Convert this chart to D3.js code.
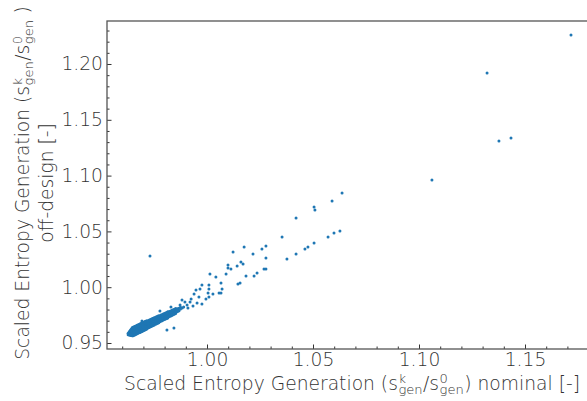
<!DOCTYPE html>
<html>
<head>
<meta charset="utf-8">
<script src="https://cdn.jsdelivr.net/npm/d3@7"></script>
<style>
  html, body { margin: 0; padding: 0; background: #fff; }
  svg { display: block; }
  text { font-family: "DejaVu Sans", sans-serif; font-weight: 200; }
</style>
</head>
<body>
<svg id="chart" width="587" height="401"></svg>
<script>
// Scaled entropy generation: nominal (x) against off-design (y), one dot per operating point.
// Each entry is [nominal, offDesign].

// dense core of the cloud
const coreCluster = [
  [0.9628, 0.9574], [0.9628, 0.9588],
  [0.9633, 0.9572], [0.9633, 0.9586], [0.9633, 0.9600],
  [0.9638, 0.9570], [0.9638, 0.9584], [0.9638, 0.9598], [0.9638, 0.9612],
  [0.9642, 0.9568], [0.9642, 0.9582], [0.9642, 0.9596], [0.9642, 0.9610], [0.9642, 0.9624],
  [0.9647, 0.9566], [0.9647, 0.9580], [0.9647, 0.9594], [0.9647, 0.9608], [0.9647, 0.9622], [0.9647, 0.9636],
  [0.9651, 0.9566], [0.9651, 0.9581], [0.9651, 0.9596], [0.9651, 0.9611], [0.9651, 0.9626], [0.9651, 0.9641],
  [0.9656, 0.9570], [0.9656, 0.9585], [0.9656, 0.9600], [0.9656, 0.9615], [0.9656, 0.9630], [0.9656, 0.9645],
  [0.9661, 0.9575], [0.9661, 0.9590], [0.9661, 0.9605], [0.9661, 0.9620], [0.9661, 0.9635], [0.9661, 0.9650],
  [0.9665, 0.9578], [0.9665, 0.9593], [0.9665, 0.9608], [0.9665, 0.9623], [0.9665, 0.9638], [0.9665, 0.9653],
  [0.9670, 0.9583], [0.9670, 0.9598], [0.9670, 0.9613], [0.9670, 0.9628], [0.9670, 0.9643], [0.9670, 0.9658],
  [0.9674, 0.9587], [0.9674, 0.9602], [0.9674, 0.9617], [0.9674, 0.9632], [0.9674, 0.9647], [0.9674, 0.9662],
  [0.9679, 0.9591], [0.9679, 0.9606], [0.9679, 0.9621], [0.9679, 0.9636], [0.9679, 0.9651], [0.9679, 0.9666],
  [0.9683, 0.9595], [0.9683, 0.9610], [0.9683, 0.9625], [0.9683, 0.9640], [0.9683, 0.9655], [0.9683, 0.9670],
  [0.9688, 0.9599], [0.9688, 0.9614], [0.9688, 0.9629], [0.9688, 0.9644], [0.9688, 0.9659], [0.9688, 0.9674],
  [0.9693, 0.9604], [0.9693, 0.9619], [0.9693, 0.9634], [0.9693, 0.9649], [0.9693, 0.9664], [0.9693, 0.9679],
  [0.9697, 0.9608], [0.9697, 0.9623], [0.9697, 0.9638], [0.9697, 0.9653], [0.9697, 0.9668], [0.9697, 0.9683],
  [0.9702, 0.9612], [0.9702, 0.9627], [0.9702, 0.9642], [0.9702, 0.9657], [0.9702, 0.9672], [0.9702, 0.9687],
  [0.9707, 0.9617], [0.9707, 0.9632], [0.9707, 0.9647], [0.9707, 0.9662], [0.9707, 0.9677], [0.9707, 0.9692],
  [0.9711, 0.9620], [0.9711, 0.9635], [0.9711, 0.9650], [0.9711, 0.9665], [0.9711, 0.9680], [0.9711, 0.9695],
  [0.9716, 0.9625], [0.9716, 0.9640], [0.9716, 0.9655], [0.9716, 0.9670], [0.9716, 0.9685], [0.9716, 0.9700],
  [0.9721, 0.9634], [0.9721, 0.9650], [0.9721, 0.9666], [0.9721, 0.9682], [0.9721, 0.9698],
  [0.9726, 0.9639], [0.9726, 0.9655], [0.9726, 0.9671], [0.9726, 0.9687], [0.9726, 0.9703],
  [0.9731, 0.9644], [0.9731, 0.9660], [0.9731, 0.9676], [0.9731, 0.9692], [0.9731, 0.9708],
  [0.9736, 0.9648], [0.9736, 0.9664], [0.9736, 0.9680], [0.9736, 0.9696], [0.9736, 0.9712],
  [0.9741, 0.9653], [0.9741, 0.9669], [0.9741, 0.9685], [0.9741, 0.9701], [0.9741, 0.9717],
  [0.9746, 0.9657], [0.9746, 0.9673], [0.9746, 0.9689], [0.9746, 0.9705], [0.9746, 0.9721],
  [0.9751, 0.9662], [0.9751, 0.9678], [0.9751, 0.9694], [0.9751, 0.9710], [0.9751, 0.9726],
  [0.9757, 0.9667], [0.9757, 0.9683], [0.9757, 0.9699], [0.9757, 0.9715], [0.9757, 0.9731],
  [0.9762, 0.9672], [0.9762, 0.9688], [0.9762, 0.9704], [0.9762, 0.9720], [0.9762, 0.9736],
  [0.9767, 0.9676], [0.9767, 0.9692], [0.9767, 0.9708], [0.9767, 0.9724], [0.9767, 0.9740],
  [0.9772, 0.9681], [0.9772, 0.9697], [0.9772, 0.9713], [0.9772, 0.9729], [0.9772, 0.9745],
  [0.9778, 0.9691], [0.9778, 0.9709], [0.9778, 0.9727], [0.9778, 0.9745],
  [0.9783, 0.9696], [0.9783, 0.9714], [0.9783, 0.9732], [0.9783, 0.9750],
  [0.9788, 0.9700], [0.9788, 0.9718], [0.9788, 0.9736], [0.9788, 0.9754],
  [0.9793, 0.9705], [0.9793, 0.9723], [0.9793, 0.9741], [0.9793, 0.9759],
  [0.9799, 0.9710], [0.9799, 0.9728], [0.9799, 0.9746], [0.9799, 0.9764],
  [0.9804, 0.9715], [0.9804, 0.9733], [0.9804, 0.9751], [0.9804, 0.9769],
  [0.9810, 0.9720], [0.9810, 0.9738], [0.9810, 0.9756], [0.9810, 0.9774],
  [0.9815, 0.9725], [0.9815, 0.9743], [0.9815, 0.9761], [0.9815, 0.9779],
  [0.9820, 0.9735], [0.9820, 0.9757], [0.9820, 0.9779],
  [0.9826, 0.9740], [0.9826, 0.9762], [0.9826, 0.9784],
  [0.9831, 0.9745], [0.9831, 0.9767], [0.9831, 0.9789],
  [0.9836, 0.9749], [0.9836, 0.9771], [0.9836, 0.9793],
  [0.9842, 0.9755], [0.9842, 0.9777], [0.9842, 0.9799],
  [0.9847, 0.9759], [0.9847, 0.9781], [0.9847, 0.9803],
  [0.9852, 0.9764], [0.9852, 0.9786], [0.9852, 0.9808],
  [0.9858, 0.9780], [0.9858, 0.9802],
  [0.9863, 0.9785], [0.9863, 0.9807],
  [0.9868, 0.9789], [0.9868, 0.9811],
  [0.9875, 0.9804], [0.9875, 0.9820],
  [0.9883, 0.9814], [0.9890, 0.9822]
];

// points that rise above the core towards the upper right
const upperBranch = [
  [1.0637, 1.0844], [1.0590, 1.0772], [1.0505, 1.0719], [1.0509, 1.0692],
  [1.0420, 1.0620], [1.0354, 1.0450], [1.0278, 1.0369], [1.0259, 1.0342],
  [1.0175, 1.0360], [1.0123, 1.0315], [1.0217, 1.0297], [1.0099, 1.0199],
  [1.0160, 1.0226], [1.0170, 1.0208], [1.0142, 1.0190], [1.0099, 1.0172],
  [1.0113, 1.0163], [1.0014, 1.0118], [1.0042, 1.0091], [1.0090, 1.0118],
  [1.0066, 1.0038], [1.0146, 1.0029], [1.0156, 1.0038], [0.9976, 1.0020],
  [1.0009, 1.0020], [0.9967, 0.9984], [0.9948, 0.9975], [1.0009, 0.9984],
  [1.0005, 0.9948], [1.0057, 0.9948], [1.0066, 0.9948], [1.0071, 0.9984],
  [1.0028, 0.9939], [0.9939, 0.9939], [0.9962, 0.9912], [0.9925, 0.9894],
  [0.9953, 0.9858], [0.9976, 0.9849], [0.9995, 0.9894], [1.0009, 0.9912],
  [0.9882, 0.9885], [0.9896, 0.9867], [0.9873, 0.9841], [0.9858, 0.9805],
  [0.9830, 0.9823], [0.9840, 0.9796], [0.9811, 0.9769], [0.9906, 0.9841],
  [0.9920, 0.9867], [0.9934, 0.9832], [0.9910, 0.9814], [0.9778, 0.9787],
  [0.9693, 0.9697]
];

// a lower, flatter branch
const lowerBranch = [
  [1.0627, 1.0504], [1.0599, 1.0486], [1.0571, 1.0450], [1.0505, 1.0396],
  [1.0476, 1.0360], [1.0462, 1.0342], [1.0420, 1.0297], [1.0377, 1.0253],
  [1.0278, 1.0262], [1.0269, 1.0163], [1.0278, 1.0163], [1.0184, 1.0100],
  [1.0236, 1.0127], [1.0222, 1.0100]
];

// isolated points
const outliers = [
  [1.1717, 1.2260], [1.1321, 1.1919], [1.1434, 1.1337], [1.1377, 1.1310],
  [1.1061, 1.0961], [0.9811, 0.9616], [0.9844, 0.9634], [0.9731, 1.0280]
];

const xTicks = [1.00, 1.05, 1.10, 1.15];
const yTicks = [0.95, 1.00, 1.05, 1.10, 1.15, 1.20];
const xMinor = [0.96, 0.97, 0.98, 0.99, 1.01, 1.02, 1.03, 1.04, 1.06, 1.07, 1.08, 1.09,
                1.11, 1.12, 1.13, 1.14, 1.16, 1.17, 1.18];
const yMinor = [0.96, 0.97, 0.98, 0.99, 1.01, 1.02, 1.03, 1.04, 1.06, 1.07, 1.08, 1.09,
                1.11, 1.12, 1.13, 1.14, 1.16, 1.17, 1.18, 1.19, 1.21, 1.22, 1.23];

const svg = d3.select("#chart");
const plot = { left: 107, top: 21, right: 590, bottom: 349 };
const pointColor = "#1f77b4";
const inkColor = "#333";
const fontSize = 18.7;

const x = d3.scaleLinear().domain([0.95283, 1.18066]).range([plot.left, plot.right]);
const y = d3.scaleLinear().domain([0.94462, 1.23853]).range([plot.bottom, plot.top]);

// axes with inward ticks
const xAxis = svg.append("g").attr("transform", `translate(0,${plot.bottom})`)
  .call(d3.axisBottom(x).tickValues(xTicks).tickSizeInner(-4.5).tickSizeOuter(0)
        .tickPadding(4).tickFormat(d3.format(".2f")));
const xAxisMinor = svg.append("g").attr("transform", `translate(0,${plot.bottom})`)
  .call(d3.axisBottom(x).tickValues(xMinor).tickSizeInner(-2.5).tickSizeOuter(0).tickFormat(""));

const yAxis = svg.append("g").attr("transform", `translate(${plot.left},0)`)
  .call(d3.axisLeft(y).tickValues(yTicks).tickSizeInner(-4.5).tickSizeOuter(0)
        .tickPadding(4).tickFormat(d3.format(".2f")));
const yAxisMinor = svg.append("g").attr("transform", `translate(${plot.left},0)`)
  .call(d3.axisLeft(y).tickValues(yMinor).tickSizeInner(-2.5).tickSizeOuter(0).tickFormat(""));

[xAxis, xAxisMinor, yAxis, yAxisMinor].forEach(g => {
  g.select(".domain").remove();
  g.selectAll(".tick line").attr("stroke", inkColor).attr("stroke-width", 1);
  g.selectAll(".tick text").attr("fill", inkColor).attr("font-size", fontSize)
    .attr("font-family", "DejaVu Sans").attr("font-weight", 200);
});

// frame
svg.append("rect")
  .attr("x", plot.left).attr("y", plot.top)
  .attr("width", plot.right - plot.left).attr("height", plot.bottom - plot.top)
  .attr("fill", "none").attr("stroke", "#555").attr("stroke-width", 1.3);

// points
const pts = [...coreCluster, ...upperBranch, ...lowerBranch, ...outliers];
svg.append("g").selectAll("circle").data(pts).join("circle")
  .attr("cx", d => x(d[0])).attr("cy", d => y(d[1])).attr("r", 1.5)
  .attr("fill", pointColor);

// one <text> per label; stacked super/subscripts are tspans placed side by side
function mathLabel(g, runs, size) {
  const small = size * 0.7;
  const measure = (txt, s) => {
    const m = g.append("text").attr("font-size", s).attr("xml:space", "preserve").text(txt);
    const w = m.node().getComputedTextLength();
    m.remove();
    return w;
  };
  const pieces = [];
  let cursor = 0;
  runs.forEach(r => {
    if (r.sup !== undefined) {
      const wSup = measure(r.sup, small), wSub = measure(r.sub, small);
      pieces.push({ t: r.sup, s: small, x: cursor + 0.5, y: -size * 0.40 });
      pieces.push({ t: r.sub, s: small, x: cursor + 0.5, y: size * 0.22 });
      cursor += Math.max(wSup, wSub) + 1;
    } else {
      pieces.push({ t: r.t, s: size, x: cursor, y: 0 });
      cursor += measure(r.t, size);
    }
  });
  const text = g.append("text").attr("fill", inkColor).attr("xml:space", "preserve");
  pieces.forEach(p => {
    text.append("tspan").attr("font-size", p.s)
      .attr("x", p.x - cursor / 2).attr("y", p.y).text(p.t);
  });
}

const xl = svg.append("g").attr("transform", "translate(352,390)");
mathLabel(xl, [
  { t: "Scaled Entropy Generation (s" }, { sup: "k", sub: "gen" },
  { t: "/s" }, { sup: "0", sub: "gen" }, { t: ") nominal [-]" }
], fontSize);

const yMid = 183;
const yl1 = svg.append("g").attr("transform", `translate(29,${yMid}) rotate(-90)`);
mathLabel(yl1, [
  { t: "Scaled Entropy Generation (s" }, { sup: "k", sub: "gen" },
  { t: "/s" }, { sup: "0", sub: "gen" }, { t: " )" }
], fontSize);
const yl2 = svg.append("g").attr("transform", `translate(53,${yMid}) rotate(-90)`);
mathLabel(yl2, [{ t: "off-design [-]" }], fontSize);
</script>
</body>
</html>
